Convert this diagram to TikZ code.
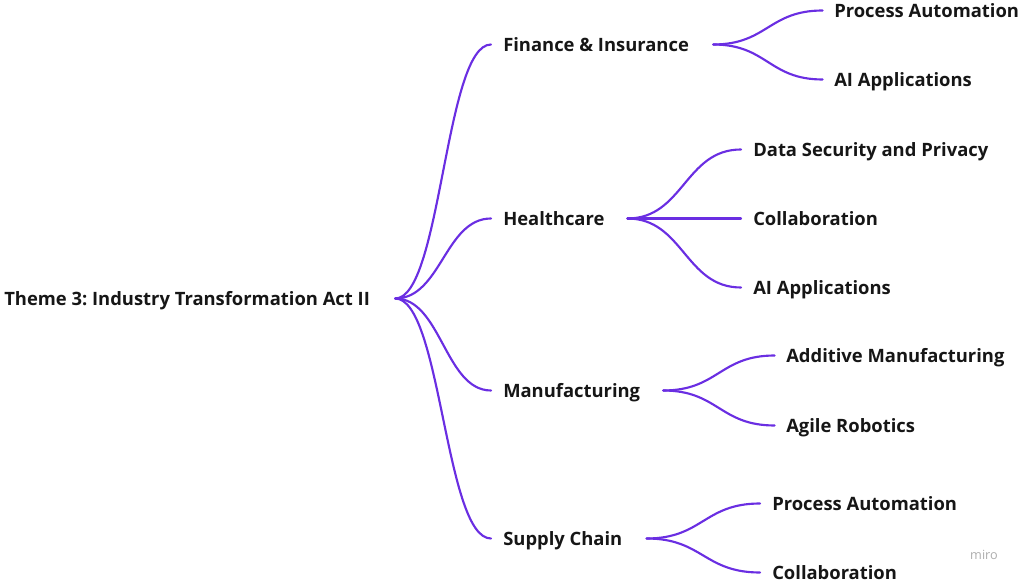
\documentclass[tikz,border=0pt]{standalone}
\usepackage{fontspec}
\setmainfont{Open Sans}
\frenchspacing
\definecolor{branchpurple}{RGB}{106,46,226}
\definecolor{inkblack}{RGB}{22,22,22}

\begin{document}
\begin{tikzpicture}[x=0.75pt,y=-0.75pt]
    \tikzstyle{topic} = [anchor=west, inner xsep=0pt, inner ysep=0pt, text height=12.2pt, text depth=2.4pt, font=\bfseries\fontsize{13.8}{16}\selectfont, text=inkblack]
\tikzstyle{branch} = [draw=branchpurple, line width=1.6pt, line cap=round]
\tikzstyle{watermark} = [text=black!32, font=\fontsize{9.5}{10}\selectfont]
    \useasboundingbox (0,0) rectangle (1024,584);

\node (root) [topic] at (4,298.5) {Theme 3: Industry Transformation Act II};

\node (fin) [topic] at (503,44.5) {Finance \& Insurance};
\node (hc) [topic] at (503,218.5) {Healthcare};
\node (mf) [topic] at (503,390.5) {Manufacturing};
\node (sc) [topic] at (503,538.5) {Supply Chain};

\node (fin1) [topic] at (834,10.5) {Process Automation};
\node (fin2) [topic] at (834,79.5) {AI Applications};
\node (hc1) [topic] at (753,149.5) {Data Security and Privacy};
\node (hc2) [topic] at (753,218.5) {Collaboration};
\node (hc3) [topic] at (753,287.5) {AI Applications};
\node (mf1) [topic] at (786,355.5) {Additive Manufacturing};
\node (mf2) [topic] at (786,425.5) {Agile Robotics};
\node (sc1) [topic] at (772,503.5) {Process Automation};
\node (sc2) [topic] at (772,572.5) {Collaboration};

\node (miro) [watermark] at (984,555) {miro};

\draw[branch] ([xshift=18.75pt]root.east) .. controls +(46,0) and +(-46,0) .. ([xshift=-9pt]fin.west);
\draw[branch] ([xshift=18.75pt]root.east) .. controls +(46,0) and +(-46,0) .. ([xshift=-9pt]hc.west);
\draw[branch] ([xshift=18.75pt]root.east) .. controls +(46,0) and +(-46,0) .. ([xshift=-9pt]mf.west);
\draw[branch] ([xshift=18.75pt]root.east) .. controls +(46,0) and +(-46,0) .. ([xshift=-9pt]sc.west);

  \draw[branch] ([xshift=18pt]fin.east) .. controls +(54,0) and +(-54,0) .. ([xshift=-8.5pt]fin1.west);
\draw[branch] ([xshift=18pt]fin.east) .. controls +(54,0) and +(-54,0) .. ([xshift=-8.5pt]fin2.west);

\draw[branch] ([xshift=17pt]hc.east) .. controls +(56,0) and +(-56,0) .. ([xshift=-9pt]hc1.west);
\draw[branch] ([xshift=17pt]hc.east) -- ([xshift=-9pt]hc2.west);
\draw[branch] ([xshift=17pt]hc.east) .. controls +(56,0) and +(-56,0) .. ([xshift=-9pt]hc3.west);

\draw[branch] ([xshift=17pt]mf.east) .. controls +(55,0) and +(-55,0) .. ([xshift=-8.5pt]mf1.west);
\draw[branch] ([xshift=17pt]mf.east) .. controls +(55,0) and +(-55,0) .. ([xshift=-8.5pt]mf2.west);

\draw[branch] ([xshift=18pt]sc.east) .. controls +(56,0) and +(-56,0) .. ([xshift=-9pt]sc1.west);
\draw[branch] ([xshift=18pt]sc.east) .. controls +(56,0) and +(-56,0) .. ([xshift=-9pt]sc2.west);
  \end{tikzpicture}
\end{document}
